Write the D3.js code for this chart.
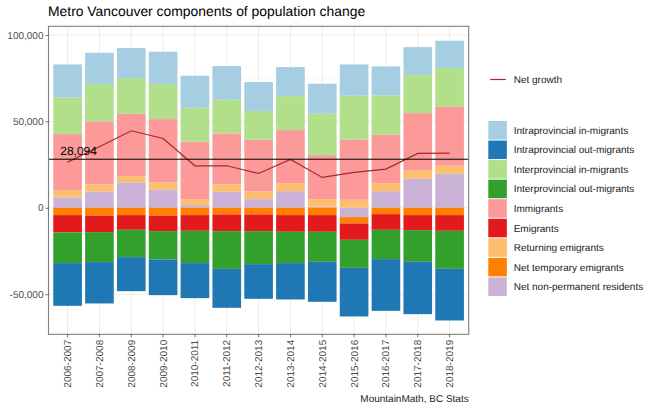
<!DOCTYPE html>
<html>
<head>
<meta charset="utf-8">
<script src="https://cdn.jsdelivr.net/npm/d3@7"></script>
<style>
  body { margin: 0; background: #fff; }
  svg { display: block; font-family: "Liberation Sans", Arial, sans-serif; text-rendering: geometricPrecision; }
  .axis text { fill: #4d4d4d; font-size: 10px; }
  .axis line { stroke: #333; stroke-width: 0.7; }
  .axis path { display: none; }
</style>
</head>
<body>
<div id="chart"></div>
<script>
const years = ["2006-2007", "2007-2008", "2008-2009", "2009-2010", "2010-2011", "2011-2012", "2012-2013",
  "2013-2014", "2014-2015", "2015-2016", "2016-2017", "2017-2018", "2018-2019"];

const intraIn = [19100, 18130, 17360, 18710, 18520, 19480, 16780, 16780, 17360, 18130, 16780, 16200, 15820];
const intraOut = [-24690, -23920, -19680, -20640, -20260, -22570, -20060, -21030, -23150, -28160, -29900, -30290, -29900];
const interIn = [21220, 21600, 20640, 20260, 19680, 19480, 16590, 19680, 23920, 25270, 22760, 21990, 22180];
const interOut = [-17750, -17360, -15820, -16400, -18710, -21800, -19100, -18130, -17360, -16200, -16980, -18330, -21990];
const immigrants = [32410, 36460, 36070, 36650, 33180, 29510, 29900, 30670, 25460, 34920, 27970, 33180, 34340];
const emigrants = [-10030, -9450, -8490, -8870, -9070, -9650, -9650, -9650, -9650, -9450, -9070, -8680, -9070];
const returning = [4240, 4050, 3670, 4240, 3470, 4240, 4440, 4630, 4440, 4630, 4630, 4820, 4630];
const netTemporary = [-4240, -4630, -4240, -4630, -4240, -3860, -3860, -4240, -4240, -3670, -3670, -4240, -4240];
const netNonPermanent = [5980, 9450, 14660, 10420, 1540, 9260, 5020, 9650, 580, -5400, 9650, 16780, 19680];
const netGrowth = [26430, 35300, 44560, 40120, 24300, 24300, 19870, 27970, 17550, 20450, 22380, 31440, 31640];

const yTicks = [-50000, 0, 50000, 100000];
const yMinor = [-25000, 25000, 75000];
const averageGrowth = 28094;

// legend order, top to bottom
const seriesNames = ["Intraprovincial in-migrants", "Intraprovincial out-migrants", "Interprovincial in-migrants",
  "Interprovincial out-migrants", "Immigrants", "Emigrants", "Returning emigrants", "Net temporary emigrants",
  "Net non-permanent residents"];
const seriesValues = [intraIn, intraOut, interIn, interOut, immigrants, emigrants, returning, netTemporary, netNonPermanent];
const seriesColors = ["#a6cee3", "#1f78b4", "#b2df8a", "#33a02c", "#fb9a99", "#e31a1c", "#fdbf6f", "#ff7f00", "#cab2d6"];

const width = 656, height = 410;
const panel = { left: 48.5, right: 468.7, top: 26.3, bottom: 334.3 };

const svg = d3.select("#chart").append("svg").attr("width", width).attr("height", height);

const x = d3.scaleBand().domain(years).range([panel.left, panel.right]).paddingInner(0.1).paddingOuter(0.15);
const y = d3.scaleLinear().domain([-73200, 105000]).range([panel.bottom, panel.top]);
const color = d3.scaleOrdinal().domain(seriesNames).range(seriesColors);
const mid = d => x(d) + x.bandwidth() / 2;

// gridlines
svg.append("g").selectAll("line").data(yMinor).enter().append("line")
  .attr("x1", panel.left).attr("x2", panel.right)
  .attr("y1", d => y(d)).attr("y2", d => y(d))
  .attr("stroke", "#ebebeb").attr("stroke-width", 0.5);
svg.append("g").selectAll("line").data(yTicks).enter().append("line")
  .attr("x1", panel.left).attr("x2", panel.right)
  .attr("y1", d => y(d)).attr("y2", d => y(d))
  .attr("stroke", "#ebebeb").attr("stroke-width", 1);
svg.append("g").selectAll("line").data(years).enter().append("line")
  .attr("x1", mid).attr("x2", mid)
  .attr("y1", panel.top).attr("y2", panel.bottom)
  .attr("stroke", "#ebebeb").attr("stroke-width", 1);

// stacked bars, first series sits next to zero
const rows = years.map((year, i) => {
  const row = { year: year };
  seriesNames.forEach((name, s) => { row[name] = seriesValues[s][i]; });
  return row;
});
const stack = d3.stack()
  .keys(seriesNames.slice().reverse())
  .offset(d3.stackOffsetDiverging);

svg.append("g").selectAll("g").data(stack(rows)).enter().append("g")
  .attr("fill", d => color(d.key))
  .selectAll("rect").data(d => d).enter().append("rect")
  .attr("x", d => x(d.data.year))
  .attr("width", x.bandwidth())
  .attr("y", d => y(d[1]))
  .attr("height", d => y(d[0]) - y(d[1]));

// net growth line and its average
const line = d3.line().x((d, i) => mid(years[i])).y(d => y(d));
svg.append("path").datum(netGrowth)
  .attr("d", line)
  .attr("fill", "none")
  .attr("stroke", "#a52a2a")
  .attr("stroke-width", 1.2);

svg.append("line")
  .attr("x1", panel.left).attr("x2", panel.right)
  .attr("y1", y(averageGrowth)).attr("y2", y(averageGrowth))
  .attr("stroke", "#000").attr("stroke-width", 1);

svg.append("text")
  .attr("x", mid(years[0]) + 11)
  .attr("y", y(averageGrowth) - 3.8)
  .attr("text-anchor", "middle")
  .attr("font-size", 12)
  .attr("fill", "#000")
  .text(d3.format(",")(averageGrowth));

// panel border
svg.append("rect")
  .attr("x", panel.left).attr("y", panel.top)
  .attr("width", panel.right - panel.left).attr("height", panel.bottom - panel.top)
  .attr("fill", "none").attr("stroke", "#7f7f7f").attr("stroke-width", 1.1);

// axes
svg.append("g").attr("class", "axis")
  .attr("transform", `translate(${panel.left},0)`)
  .call(d3.axisLeft(y).tickValues(yTicks).tickSize(3).tickPadding(2)
    .tickFormat(d => d3.format(",")(d).replace("\u2212", "-")));

const xAxis = svg.append("g").attr("class", "axis")
  .attr("transform", `translate(0,${panel.bottom})`)
  .call(d3.axisBottom(x).tickSize(3));
xAxis.selectAll("text")
  .attr("transform", "rotate(-90)")
  .attr("text-anchor", "end")
  .attr("x", -5.5)
  .attr("y", 0)
  .attr("dy", "0.35em");

// title and caption
svg.append("text").attr("x", panel.left - 0.5).attr("y", 15.5)
  .attr("font-size", 13.9).attr("fill", "#000")
  .text("Metro Vancouver components of population change");
svg.append("text").attr("x", panel.right).attr("y", 402)
  .attr("text-anchor", "end").attr("font-size", 10).attr("fill", "#1a1a1a")
  .text("MountainMath, BC Stats");

// legends
const legendX = 488.3, keySize = 19.55, labelX = 513.7;

svg.append("line")
  .attr("x1", legendX + 2).attr("x2", legendX + keySize - 2)
  .attr("y1", 79.5).attr("y2", 79.5)
  .attr("stroke", "#a52a2a").attr("stroke-width", 1.2);
svg.append("text").attr("x", labelX).attr("y", 79.5).attr("dy", "0.35em")
  .attr("font-size", 10).attr("fill", "#1a1a1a").text("Net growth");

const legend = svg.append("g").selectAll("g").data(seriesNames).enter().append("g")
  .attr("transform", (d, i) => `translate(${legendX},${121 + i * keySize})`);
legend.append("rect")
  .attr("width", keySize - 1).attr("height", keySize - 1)
  .attr("fill", d => color(d));
legend.append("text")
  .attr("x", labelX - legendX).attr("y", keySize / 2 - 0.5).attr("dy", "0.35em")
  .attr("font-size", 10).attr("fill", "#1a1a1a")
  .text(d => d);
</script>
</body>
</html>
